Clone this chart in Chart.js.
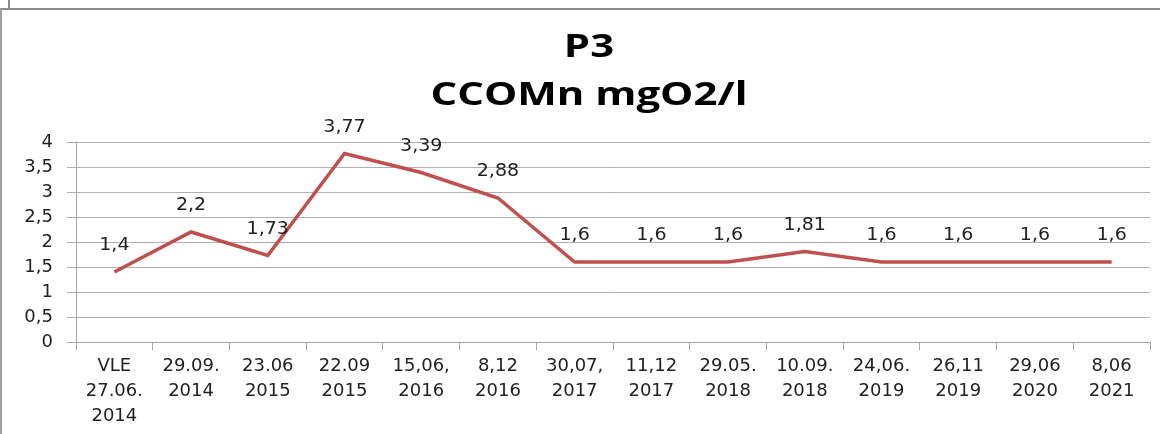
<!DOCTYPE html>
<html>
<head>
<meta charset="utf-8">
<script src="https://cdn.jsdelivr.net/npm/chart.js@4/dist/chart.umd.min.js"></script>
<style>
  html, body { margin: 0; padding: 0; background: #fff; }
  #wrap { position: relative; width: 1168px; height: 434px; }
</style>
</head>
<body>
<div id="wrap"><canvas id="chart"></canvas></div>
<script>
"use strict";

// data
const dates = [
    ["VLE", "27.06.", "2014"], ["29.09.", "2014"], ["23.06", "2015"], ["22.09", "2015"],
    ["15,06,", "2016"], ["8,12", "2016"], ["30,07,", "2017"], ["11,12", "2017"],
    ["29.05.", "2018"], ["10.09.", "2018"], ["24,06.", "2019"], ["26,11", "2019"],
    ["29,06", "2020"], ["8,06", "2021"]
];
const ccomn = [1.4, 2.2, 1.73, 3.77, 3.39, 2.88, 1.6, 1.6, 1.6, 1.81, 1.6, 1.6, 1.6, 1.6];
const titleLines = ["P3", "CCOMn mgO2/l"];

const comma = v => String(v).replace(".", ",");

// outer frame and the (horizontally stretched) title
const framePlugin = {
    id: "frame",
    afterDraw(chart) {
        const ctx = chart.ctx;
        ctx.save();
        ctx.strokeStyle = "#8c8c8c";
        ctx.lineWidth = 2;
        ctx.beginPath();
        ctx.moveTo(9, 0); ctx.lineTo(9, 9);
        ctx.moveTo(0, 9); ctx.lineTo(1160, 9);
        ctx.stroke();
        ctx.strokeStyle = "#a0a0a0";
        ctx.beginPath();
        ctx.moveTo(1, 9); ctx.lineTo(1, 434);
        ctx.stroke();

        ctx.fillStyle = "#000";
        ctx.font = "bold 32px 'Open Sans'";
        ctx.textAlign = "center";
        ctx.textBaseline = "middle";
        const ys = [48, 96];
        titleLines.forEach((t, i) => {
            ctx.save();
            ctx.translate(589, ys[i]);
            ctx.scale(1.31, 1);
            ctx.fillText(t, 0, 0);
            ctx.restore();
        });
        ctx.restore();
    }
};

// value labels above each point
const valueLabels = {
    id: "valueLabels",
    afterDatasetsDraw(chart) {
        const ctx = chart.ctx;
        const meta = chart.getDatasetMeta(0);
        ctx.save();
        ctx.fillStyle = "#222";
        ctx.font = "17px 'DejaVu Sans'";
        ctx.textAlign = "center";
        ctx.textBaseline = "middle";
        meta.data.forEach((pt, i) => {
            ctx.save();
            ctx.translate(pt.x, pt.y - 26);
            ctx.scale(1.12, 1);
            ctx.fillText(comma(ccomn[i]), 0, 0);
            ctx.restore();
        });
        ctx.restore();
    }
};

new Chart(document.getElementById("chart"), {
    type: "line",
    data: {
        labels: dates,
        datasets: [{
            data: ccomn,
            borderColor: "#c0504d",
            borderWidth: 3.5,
            pointRadius: 0,
            tension: 0,
            fill: false
        }]
    },
    options: {
        responsive: true,
        maintainAspectRatio: false,
        animation: false,
        layout: { padding: { top: 142, right: 18, left: 0, bottom: 0 } },
        plugins: {
            legend: { display: false },
            title: { display: false },
            tooltip: { enabled: false }
        },
        scales: {
            x: {
                offset: true,
                grid: {
                    offset: true,
                    drawOnChartArea: false,
                    drawTicks: true,
                    tickLength: 8,
                    color: "#a6a6a6"
                },
                border: { color: "#a6a6a6", width: 1 },
                ticks: {
                    color: "#222",
                    font: { family: "DejaVu Sans", size: 18, lineHeight: 1.39 },
                    maxRotation: 0,
                    autoSkip: false,
                    padding: 4
                },
                afterFit(scale) { scale.height = 92; }
            },
            y: {
                min: 0,
                max: 4,
                ticks: {
                    stepSize: 0.5,
                    color: "#222",
                    font: { family: "DejaVu Sans", size: 18 },
                    padding: 14,
                    callback: v => comma(v)
                },
                grid: { color: "#b0b0b0", tickLength: 9 },
                border: { color: "#a6a6a6", width: 1 },
                afterFit(scale) { scale.width = 76; }
            }
        }
    },
    plugins: [framePlugin, valueLabels]
});
</script>
</body>
</html>
